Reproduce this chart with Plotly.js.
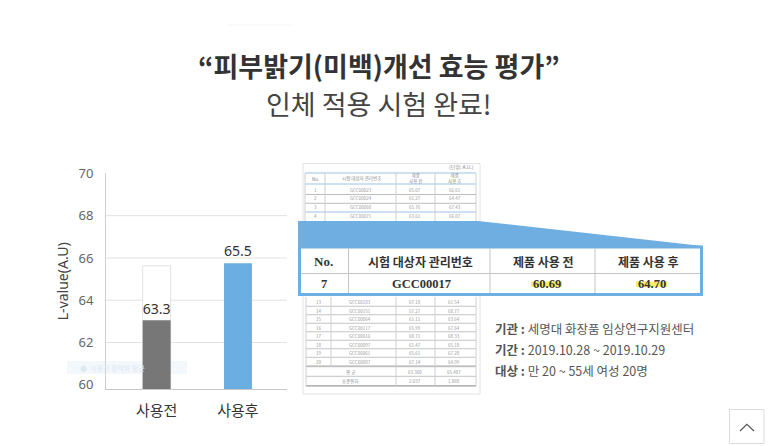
<!DOCTYPE html>
<html>
<head>
<meta charset="utf-8">
<script src="https://cdn.plot.ly/plotly-3.0.1.min.js"></script>
<style>html,body{margin:0;padding:0;background:#fff;}#chart{width:773px;height:446px;}</style>
</head>
<body>
<div id="chart"></div>
<script>
// ---- chart data ----
const categories = ['사용전', '사용후'];
const barValues = [63.05, 65.75];
const barLabels = ['63.3', '65.5'];
const ghostCategories = [0];
const ghostValues = [65.63];
const yTickVals = [60, 62, 64, 66, 68, 70];
const gridVals = [62, 64, 66, 68];
const titleLine1 = '“피부밝기(미백)개선 효능 평가”';
const titleLine2 = '인체 적용 시험 완료!';
const yTitle = 'L-value(A.U)';

// ---- table image data ----
const tableHeaders = ['No.', '시험 대상자 관리번호', '제품 사용 전', '제품 사용 후'];
const smallHeaders = ['No.', '시험 대상자 관리번호', '제품<br>사용 전', '제품<br>사용 후'];
const unitText = '(단위: A.U.)';
const topNo = ['1', '2', '3', '4'];
const topId = ['GCC00023', 'GCC00024', 'GCC00068', 'GCC00071'];
const topBefore = ['65.07', '61.27', '65.76', '63.61'];
const topAfter = ['66.61', '64.47', '67.43', '66.07'];
const hlRow = ['7', 'GCC00017', '60.69', '64.70'];
const lowNo = ['13', '14', '15', '16', '17', '18', '19', '20'];
const lowId = ['GCC00183', 'GCC00151', 'GCC00064', 'GCC00117', 'GCC00016', 'GCC00097', 'GCC00061', 'GCC00087'];
const lowBefore = ['67.18', '67.27', '61.11', '65.99', '68.71', '61.47', '65.61', '67.14'];
const lowAfter = ['61.54', '68.77', '63.64', '67.64', '68.33', '65.18', '67.28', '64.99'];
const summaryLabels = ['평 균', '표준편차'];
const summaryBefore = ['63.300', '2.037'];
const summaryAfter = ['65.487', '1.868'];
const infoLabels = ['기관', '기간', '대상'];
const infoValues = ['세명대 화장품 임상연구지원센터', '2019.10.28 ~ 2019.10.29', '만 20 ~ 55세 여성 20명'];

// ---- helpers (pixel -> paper) ----
const W = 773, H = 446;
const px = x => x / W;
const py = y => 1 - y / H;
const KR = 'Noto Sans CJK KR, Noto Sans, sans-serif';
const SERIF = 'Liberation Serif, Noto Sans CJK KR, serif';
const shapes = [];
const annotations = [];
function rect(x0, y0, x1, y1, fill, lc, lw, layer) {
  shapes.push({type: 'rect', xref: 'paper', yref: 'paper', x0: px(x0), x1: px(x1), y0: py(y1), y1: py(y0),
    fillcolor: fill, line: {color: lc || 'rgba(0,0,0,0)', width: lw || 0}, layer: layer || 'above'});
}
function hline(x0, x1, y, color, w, layer) {
  shapes.push({type: 'line', xref: 'paper', yref: 'paper', x0: px(x0), x1: px(x1), y0: py(y), y1: py(y),
    line: {color: color, width: w || 1}, layer: layer || 'above'});
}
function vline(x, y0, y1, color, w) {
  shapes.push({type: 'line', xref: 'paper', yref: 'paper', x0: px(x), x1: px(x), y0: py(y0), y1: py(y1),
    line: {color: color, width: w || 1}, layer: 'above'});
}
function text(t, x, y, size, color, family, xanchor, extra) {
  annotations.push(Object.assign({text: t, x: px(x), y: py(y), xref: 'paper', yref: 'paper', showarrow: false,
    xanchor: xanchor || 'center', yanchor: 'middle', font: {size: size, color: color, family: family || KR}}, extra || {}));
}

// ---- titles ----
text('<b>' + titleLine1 + '</b>', 379, 66, 27, '#333', KR);
text(titleLine2, 379, 103, 27, '#444', KR);
hline(228, 294, 25, '#f6f6f6', 1);

// ---- chart gridlines (data coords on y) ----
gridVals.forEach(v => shapes.push({type: 'line', xref: 'paper', yref: 'y', x0: px(106), x1: px(287), y0: v, y1: v,
  line: {color: '#e2e2e2', width: 1}, layer: 'below'}));

// faint ghost legend
rect(67, 361, 187, 374, '#f3f8fd', null, 0, 'below');
text('●  사용전 정착화 평균', 78, 367.5, 7, '#e0e8f1', KR, 'left');

// ---- top small table (paper image) ----
rect(303, 163.5, 480, 226, '#fff', '#e2e2e2', 1);
text(unitText, 476, 167.5, 5, '#888', KR, 'right');
const topCenters = [315, 361, 415, 455];
hline(305, 476, 173, '#9cc3e6', 1);
hline(305, 476, 184, '#9cc3e6', 1);
smallHeaders.forEach((h, i) => text(h, topCenters[i], 178.5, 4.5, '#888', KR));
[topNo, topId, topBefore, topAfter].forEach((col, ci) =>
  col.forEach((v, ri) => text(v, topCenters[ci], 189.5 + ri * 8.7, 4.5, '#999', KR)));
[194.5, 203.3].forEach(y => hline(305, 476, y, '#bdbdbd', 1));
hline(305, 476, 212, '#9cc3e6', 1.2);
[325, 396, 435].forEach(x => vline(x, 173, 221, '#cfcfcf', 1));
vline(305, 173, 221, '#cfcfcf', 1);
vline(476, 173, 221, '#cfcfcf', 1);

// ---- lower small table (paper image) ----
rect(303, 294, 480, 394, '#fff', '#e2e2e2', 1);
const lowCenters = [318, 360, 415, 454];
const rowY0 = 302, rowStep = 8.5;
lowNo.forEach((v, ri) => {
  const y = rowY0 + ri * rowStep;
  [lowNo, lowId, lowBefore, lowAfter].forEach((col, ci) => text(col[ri], lowCenters[ci], y, 4.5, '#999', KR));
  hline(306, 476, y + rowStep / 2, '#c4c4c4', 1);
});
const yAvg = rowY0 + lowNo.length * rowStep + 1.5;
hline(306, 476, yAvg - 4.8, '#b5b5b5', 1);
summaryLabels.forEach((lab, i) => {
  const y = yAvg + i * 9.5;
  text(lab, 350, y, 4.5, '#999', KR);
  text(summaryBefore[i], lowCenters[2], y, 4.5, '#999', KR);
  text(summaryAfter[i], lowCenters[3], y, 4.5, '#999', KR);
  hline(306, 476, y + 4.8, i === 1 ? '#9a9a9a' : '#c4c4c4', i === 1 ? 1.3 : 1);
});
[331, 396, 435].forEach((x, i) => vline(x, 297, i === 0 ? yAvg - 4.8 : yAvg + 14.3, '#cfcfcf', 1));
vline(306, 297, yAvg + 14.3, '#cfcfcf', 1);
vline(476, 297, yAvg + 14.3, '#cfcfcf', 1);

// ---- blue magnifier trapezoid + highlighted row box ----
shapes.push({type: 'path', xref: 'paper', yref: 'paper',
  path: `M ${px(298)} ${py(221)} L ${px(478)} ${py(221)} L ${px(702.5)} ${py(246)} L ${px(702.5)} ${py(252)} L ${px(298)} ${py(252)} Z`,
  fillcolor: '#6eaee0', line: {color: 'rgba(0,0,0,0)', width: 0}, layer: 'above'});
rect(299.5, 247, 701.5, 294.5, '#ffffff', '#6eaee0', 3);
hline(301, 700, 273.5, '#c4c4c4', 1);
[348.5, 490, 595].forEach(x => vline(x, 248.5, 293, '#c4c4c4', 1));
// yellow marker highlights
rect(531, 281.5, 562, 287, 'rgba(246,238,70,0.85)', null, 0);
rect(636, 281.5, 667, 287, 'rgba(246,238,70,0.85)', null, 0);
const bigCenters = [323.5, 420, 543, 648];
const rowCenters = [323.5, 421, 547, 652];
tableHeaders.forEach((h, i) => text('<b>' + h + '</b>', bigCenters[i], 261.5, i === 0 ? 13 : 12, '#333', i === 0 ? SERIF : KR));
hlRow.forEach((v, i) => text('<b>' + v + '</b>', rowCenters[i], 283.5, 12.5, '#333', SERIF));

// ---- info text ----
infoLabels.forEach((lab, i) => text('<b>' + lab + ' :</b> ' + infoValues[i], 492.5, 328.5 + i * 21.2, 12.5, '#555', KR, 'left'));

// ---- scroll-to-top button ----
rect(729.5, 409.5, 764, 443.5, '#fff', '#dcdcdc', 1);
shapes.push({type: 'path', xref: 'paper', yref: 'paper',
  path: `M ${px(740)} ${py(431)} L ${px(746.8)} ${py(424.3)} L ${px(754)} ${py(431)}`,
  line: {color: '#555', width: 1.2}, layer: 'above'});

// ---- traces ----
const ghost = {type: 'bar', x: ghostCategories, y: ghostValues, width: 0.344,
  marker: {color: '#ffffff', line: {color: '#e3e3e3', width: 1}}, hoverinfo: 'skip', showlegend: false};
const bars = {type: 'bar', x: [0, 1], y: barValues, width: 0.344, text: barLabels,
  textposition: 'outside', cliponaxis: false,
  textfont: {size: 15, color: '#333', family: 'Noto Sans, sans-serif'},
  marker: {color: ['#777777', '#6aaee2'], line: {width: 0}}, hoverinfo: 'skip', showlegend: false};

const layout = {
  width: W, height: H,
  margin: {l: 0, r: 0, t: 0, b: 0},
  paper_bgcolor: '#ffffff', plot_bgcolor: 'rgba(0,0,0,0)',
  barmode: 'overlay', showlegend: false, hovermode: false,
  xaxis: {domain: [px(106), px(287)], range: [-0.623, 1.603], tickvals: [0, 1], ticktext: categories,
    showgrid: false, zeroline: false, showline: true, linecolor: '#c8c8c8', linewidth: 1,
    ticks: '', ticklabelstandoff: 8, automargin: false,
    tickfont: {size: 15, color: '#333', family: KR}, fixedrange: true},
  yaxis: {domain: [py(389), py(173.4)], range: [59.8, 70], tickvals: yTickVals,
    showgrid: false, zeroline: false, showline: true, linecolor: '#d0d0d0', linewidth: 1,
    ticks: '', ticklabelstandoff: 9, automargin: false,
    tickfont: {size: 13, color: '#666', family: 'Noto Sans, sans-serif'},
    title: {text: yTitle, standoff: 6, font: {size: 14, color: '#444', family: 'Noto Sans, sans-serif'}},
    fixedrange: true},
  shapes: shapes,
  annotations: annotations
};
Plotly.newPlot('chart', [ghost, bars], layout, {displayModeBar: false, staticPlot: true});
</script>
</body>
</html>
